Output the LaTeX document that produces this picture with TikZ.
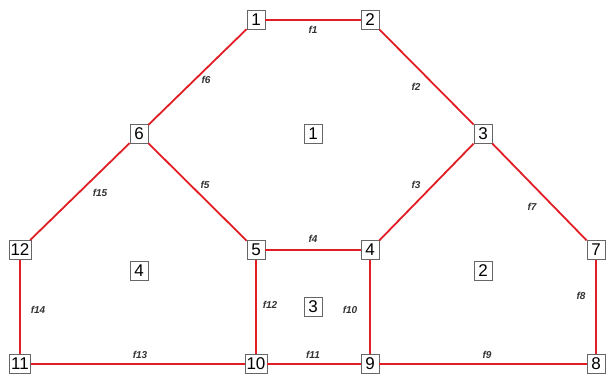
\documentclass[tikz,border=0pt]{standalone}
\usepackage{fontspec}
\setmainfont{Liberation Sans}
\definecolor{edgered}{RGB}{225,30,35}
\tikzset{
	vbox/.style={draw=black!60, line width=0.8pt, fill=white, inner sep=1.5pt, minimum height=19pt, minimum width=18pt, font=\fontsize{17}{17}\selectfont},
	elabel/.style={inner sep=0pt, text=black!80, font=\bfseries\itshape\fontsize{10}{10}\selectfont},
	edge/.style={draw=edgered, line width=1.8pt}
}
\begin{document}
\begin{tikzpicture}[x=1pt, y=1pt]
		\useasboundingbox (0, 0) rectangle (608, 379);
		% vertices
		\node[vbox] (n1) at (256, 359) {1};
		\node[vbox] (n2) at (370, 359) {2};
		\node[vbox] (n3) at (483, 245) {3};
		\node[vbox] (n4) at (370, 129) {4};
		\node[vbox] (n5) at (256, 129) {5};
		\node[vbox] (n6) at (139, 245) {6};
		\node[vbox] (n7) at (596, 129) {7};
		\node[vbox] (n8) at (596, 15) {8};
		\node[vbox] (n9) at (370, 15) {9};
		\node[vbox] (n10) at (256, 15) {10};
		\node[vbox] (n11) at (20, 15) {11};
		\node[vbox] (n12) at (20, 129) {12};
		% faces
		\node[vbox] (F1) at (313, 245) {1};
		\node[vbox] (F2) at (483, 108) {2};
		\node[vbox] (F3) at (313, 72) {3};
		\node[vbox] (F4) at (139, 108) {4};
		% edges
		\draw[edge] (n1) -- (n2);
		\draw[edge] (n2) -- (n3);
		\draw[edge] (n3) -- (n4);
		\draw[edge] (n4) -- (n5);
		\draw[edge] (n5) -- (n6);
		\draw[edge] (n6) -- (n1);
		\draw[edge] (n3) -- (n7);
		\draw[edge] (n7) -- (n8);
		\draw[edge] (n8) -- (n9);
		\draw[edge] (n9) -- (n4);
		\draw[edge] (n9) -- (n10);
		\draw[edge] (n10) -- (n5);
		\draw[edge] (n10) -- (n11);
		\draw[edge] (n11) -- (n12);
		\draw[edge] (n12) -- (n6);
		% edge labels
		\node[elabel] (f1) at (313, 349) {f1};
		\node[elabel] (f2) at (416, 292) {f2};
		\node[elabel] (f3) at (416, 194) {f3};
		\node[elabel] (f4) at (313, 140) {f4};
		\node[elabel] (f5) at (205, 194) {f5};
		\node[elabel] (f6) at (206, 299) {f6};
		\node[elabel] (f7) at (532, 172) {f7};
		\node[elabel] (f8) at (581, 83) {f8};
		\node[elabel] (f9) at (487, 24) {f9};
		\node[elabel] (f10) at (350, 69) {f10};
		\node[elabel] (f11) at (313, 24) {f11};
		\node[elabel] (f12) at (270, 74) {f12};
		\node[elabel] (f13) at (140, 24) {f13};
		\node[elabel] (f14) at (38, 69) {f14};
		\node[elabel] (f15) at (100, 186) {f15};
	\end{tikzpicture}
\end{document}
